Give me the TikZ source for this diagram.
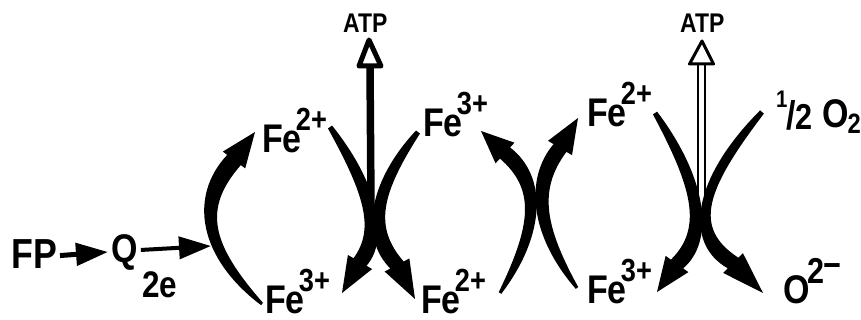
\documentclass[tikz,border=0pt]{standalone}
\usepackage{fontspec}
\setmainfont{Liberation Sans}
\newfontfamily\lab[FakeStretch=0.85]{Liberation Sans Bold}
\usetikzlibrary{calc,arrows.meta}
% tapered curved arrow: #1 tail, #2 control, #3 head base, #4 tip,
% #5 tail half width, #6 middle half width, #7 base half width, #8 head half width
\newcommand\taperarrow[8]{%
  \coordinate (tT) at (#1);
  \coordinate (tC) at (#2);
  \coordinate (tB) at (#3);
  \coordinate (tP) at (#4);
  \coordinate (tC1) at ($(tT)!0.667!(tC)$);
  \coordinate (tC2) at ($(tB)!0.667!(tC)$);
  \fill[inkfill] ($(tT)!#5pt!90:(tC)$)
     .. controls ($(tC1)!#6pt!90:(tC)$) and ($(tC2)!#6pt!90:(tB)$) .. ($(tB)!#7pt!90:(tP)$)
     -- ($(tB)!#8pt!90:(tP)$) -- (tP) -- ($(tB)!#8pt!-90:(tP)$)
     -- ($(tB)!#7pt!-90:(tP)$)
     .. controls ($(tC2)!#6pt!-90:(tB)$) and ($(tC1)!#6pt!-90:(tC)$) .. ($(tT)!#5pt!-90:(tC)$)
     -- cycle;}
\newcommand\fesup[1]{Fe\kern-6pt\raisebox{22pt}{\fontsize{32}{32}\selectfont #1}}
\begin{document}
\begin{tikzpicture}[x=1pt,y=-1pt,
  lbl/.style={font=\lab\fontsize{40}{40}\selectfont, inner sep=0pt, anchor=base west},
  atplbl/.style={font=\lab\fontsize{27}{27}\selectfont, inner sep=0pt, anchor=base west},
  inkfill/.style={fill=black},
  feedarrow/.style={line width=#1, -{Triangle[length=32pt,width=22pt]}},
  openhead/.style={fill=white, line join=round},
]
\useasboundingbox (0,0) rectangle (861,320);
\fill[white] (0,0) rectangle (861,320);

% labels
\node[lbl, font=\lab\fontsize{42}{42}\selectfont] (FP) at (11,268) {FP};
\node[lbl] (Q) at (111,262) {Q};
\node[lbl, font=\lab\fontsize{37}{37}\selectfont] (two) at (142,297) {2e};
\node[lbl] (FeA) at (262,153) {\fesup{2+}};
\node[lbl] (FeB) at (265,313) {\fesup{3+}};
\node[lbl] (FeC) at (423,137) {\fesup{3+}};
\node[lbl] (FeD) at (421,313) {\fesup{2+}};
\node[lbl] (FeE) at (587,127) {\fesup{2+}};
\node[lbl] (FeF) at (587,303) {\fesup{3+}};
\node[lbl] (half) at (776,130) {\raisebox{22pt}{\fontsize{24}{24}\selectfont 1}\kern-1pt{\fontsize{40}{40}\selectfont /}\kern-0.5pt{\fontsize{36}{36}\selectfont 2}};
\node[lbl] (Otwo) at (822,128) {O\kern-1pt\raisebox{-6pt}{\fontsize{28}{28}\selectfont 2}};
\node[lbl] (Ominus) at (783,303) {O\kern-2pt\raisebox{20pt}{\fontsize{36}{36}\selectfont 2\kern-1pt\raisebox{6pt}{−}}};
\node[atplbl] (ATPa) at (343,33) {ATP};
\node[atplbl] (ATPb) at (680,33) {ATP};

% electron feed arrows
\coordinate (qin) at (211,246);
\draw[feedarrow=5pt] ($(FP.east)+(3,2)$) -- ($(Q.west)+(-3,0)$);
\draw[feedarrow=4pt] ($(Q.east)+(3,-2)$) -- (qin);

% ATP arrows (drawn first, the arcs cover their feet)
\coordinate (atpAfoot) at (371,205);
\coordinate (atpAbase) at (370,66);
\coordinate (atpAtip) at (369,40);
\draw[line width=7.5pt] (atpAfoot) -- (atpAbase);
\draw[openhead, line width=5pt] (atpAtip) -- ($(atpAbase)+(-11,0)$) -- ($(atpAbase)+(11,0)$) -- cycle;

\coordinate (atpBfoot) at (701.5,200);
\coordinate (atpBbase) at (701.5,64);
\coordinate (atpBtip) at (702,41);
\draw[line width=2.2pt, double=white, double distance=4.5pt] (atpBfoot) -- (atpBbase);
\draw[openhead, line width=3pt] (atpBtip) -- ($(atpBbase)+(-12,0)$) -- ($(atpBbase)+(12,0)$) -- cycle;

% big reduction arc
\coordinate (aT) at (262,304); \coordinate (aC) at (176,224);
\coordinate (aB) at (234,160); \coordinate (aP) at (255,132);
\taperarrow{aT}{aC}{aB}{aP}{1.5}{9.5}{8.5}{14}

% first crossing
\coordinate (x1aT) at (330,127); \coordinate (x1aC) at (393,221);
\coordinate (x1aB) at (360,262); \coordinate (x1aP) at (342,293);
\taperarrow{x1aT}{x1aC}{x1aB}{x1aP}{2.5}{9}{7.5}{14}
\coordinate (x1bT) at (418,132); \coordinate (x1bC) at (352,217);
\coordinate (x1bB) at (397,265); \coordinate (x1bP) at (415,299);
\taperarrow{x1bT}{x1bC}{x1bB}{x1bP}{2.5}{9}{7.5}{14}

% second crossing
\coordinate (x2aT) at (500,293); \coordinate (x2aC) at (559,197);
\coordinate (x2aB) at (505,153); \coordinate (x2aP) at (481,131);
\taperarrow{x2aT}{x2aC}{x2aB}{x2aP}{1.5}{9}{7.5}{14}
\coordinate (x2bT) at (577,288); \coordinate (x2bC) at (517,202);
\coordinate (x2bB) at (560,148); \coordinate (x2bP) at (578,118);
\taperarrow{x2bT}{x2bC}{x2bB}{x2bP}{1.5}{9}{7.5}{14}

% third crossing
\coordinate (x3aT) at (655,113); \coordinate (x3aC) at (724,221);
\coordinate (x3aB) at (677,264); \coordinate (x3aP) at (657,292);
\taperarrow{x3aT}{x3aC}{x3aB}{x3aP}{2.5}{9}{7.5}{14}
\coordinate (x3bT) at (762,112); \coordinate (x3bC) at (666,222);
\coordinate (x3bB) at (733,263); \coordinate (x3bP) at (763,293);
\taperarrow{x3bT}{x3bC}{x3bB}{x3bP}{2.5}{9}{7.5}{14}
\end{tikzpicture}
\end{document}
